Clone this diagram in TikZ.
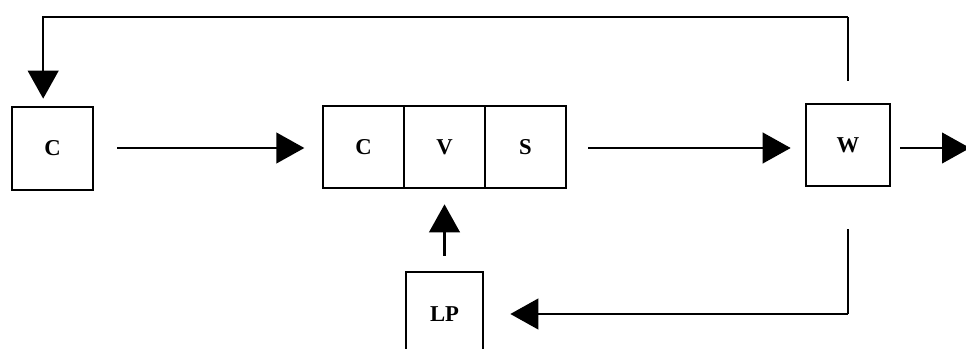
\documentclass[tikz,border=0pt]{standalone}
\usepackage{fontspec}
\setmainfont{Liberation Serif}
\usetikzlibrary{arrows.meta}
\begin{document}
\begin{tikzpicture}[x=0.75pt,y=-0.75pt,
  box/.style={draw,line width=2pt,minimum width=60.75pt,minimum height=61.5pt,inner sep=0pt,font=\fontsize{17}{19}\selectfont\bfseries},
  conn/.style={line width=1.6pt,-{Triangle[length=21pt,width=23pt]}}]
\useasboundingbox (0,0) rectangle (966,349);
\clip (0,0) rectangle (966,349);
\node[box,minimum height=62.25pt] (c1) at (52.5,148.5) {C};
\node[box] (cc) at (363.5,147) {C};
\node[box] (v) at (444.5,147) {V};
\node[box] (s) at (525.5,147) {S};
\node[box,minimum width=63pt] (w) at (848,145) {W};
\node[box,minimum width=57.75pt,minimum height=63pt] (lp) at (444.5,314) {LP};
\coordinate (row) at (0,148);
\coordinate (out) at (970,148);
\coordinate (topy) at (0,17);
\coordinate (ctop) at ([xshift=-7pt]c1.north);
\draw[conn,shorten <=17pt,shorten >=13pt] (c1.east |- row) -- (cc.west |- row);
\draw[conn,shorten <=15.75pt,shorten >=10.5pt] (s.east |- row) -- (w.west |- row);
\draw[conn,shorten <=6.75pt] (w.east |- row) -- (out);
\draw[line width=1.6pt,shorten <=16.5pt] (w.north) -- (w.north |- topy);
\draw[conn,shorten >=5.25pt] (w.north |- topy) -- (ctop |- topy) -- (ctop);
\draw[line width=1.6pt,shorten <=31.5pt] (w.south) -- (w.south |- lp.east);
\draw[conn,shorten >=19.5pt] (w.south |- lp.east) -- (lp.east);
\draw[conn,shorten <=11.25pt,shorten >=11.25pt] (lp.north) -- (v.south);
\end{tikzpicture}
\end{document}
